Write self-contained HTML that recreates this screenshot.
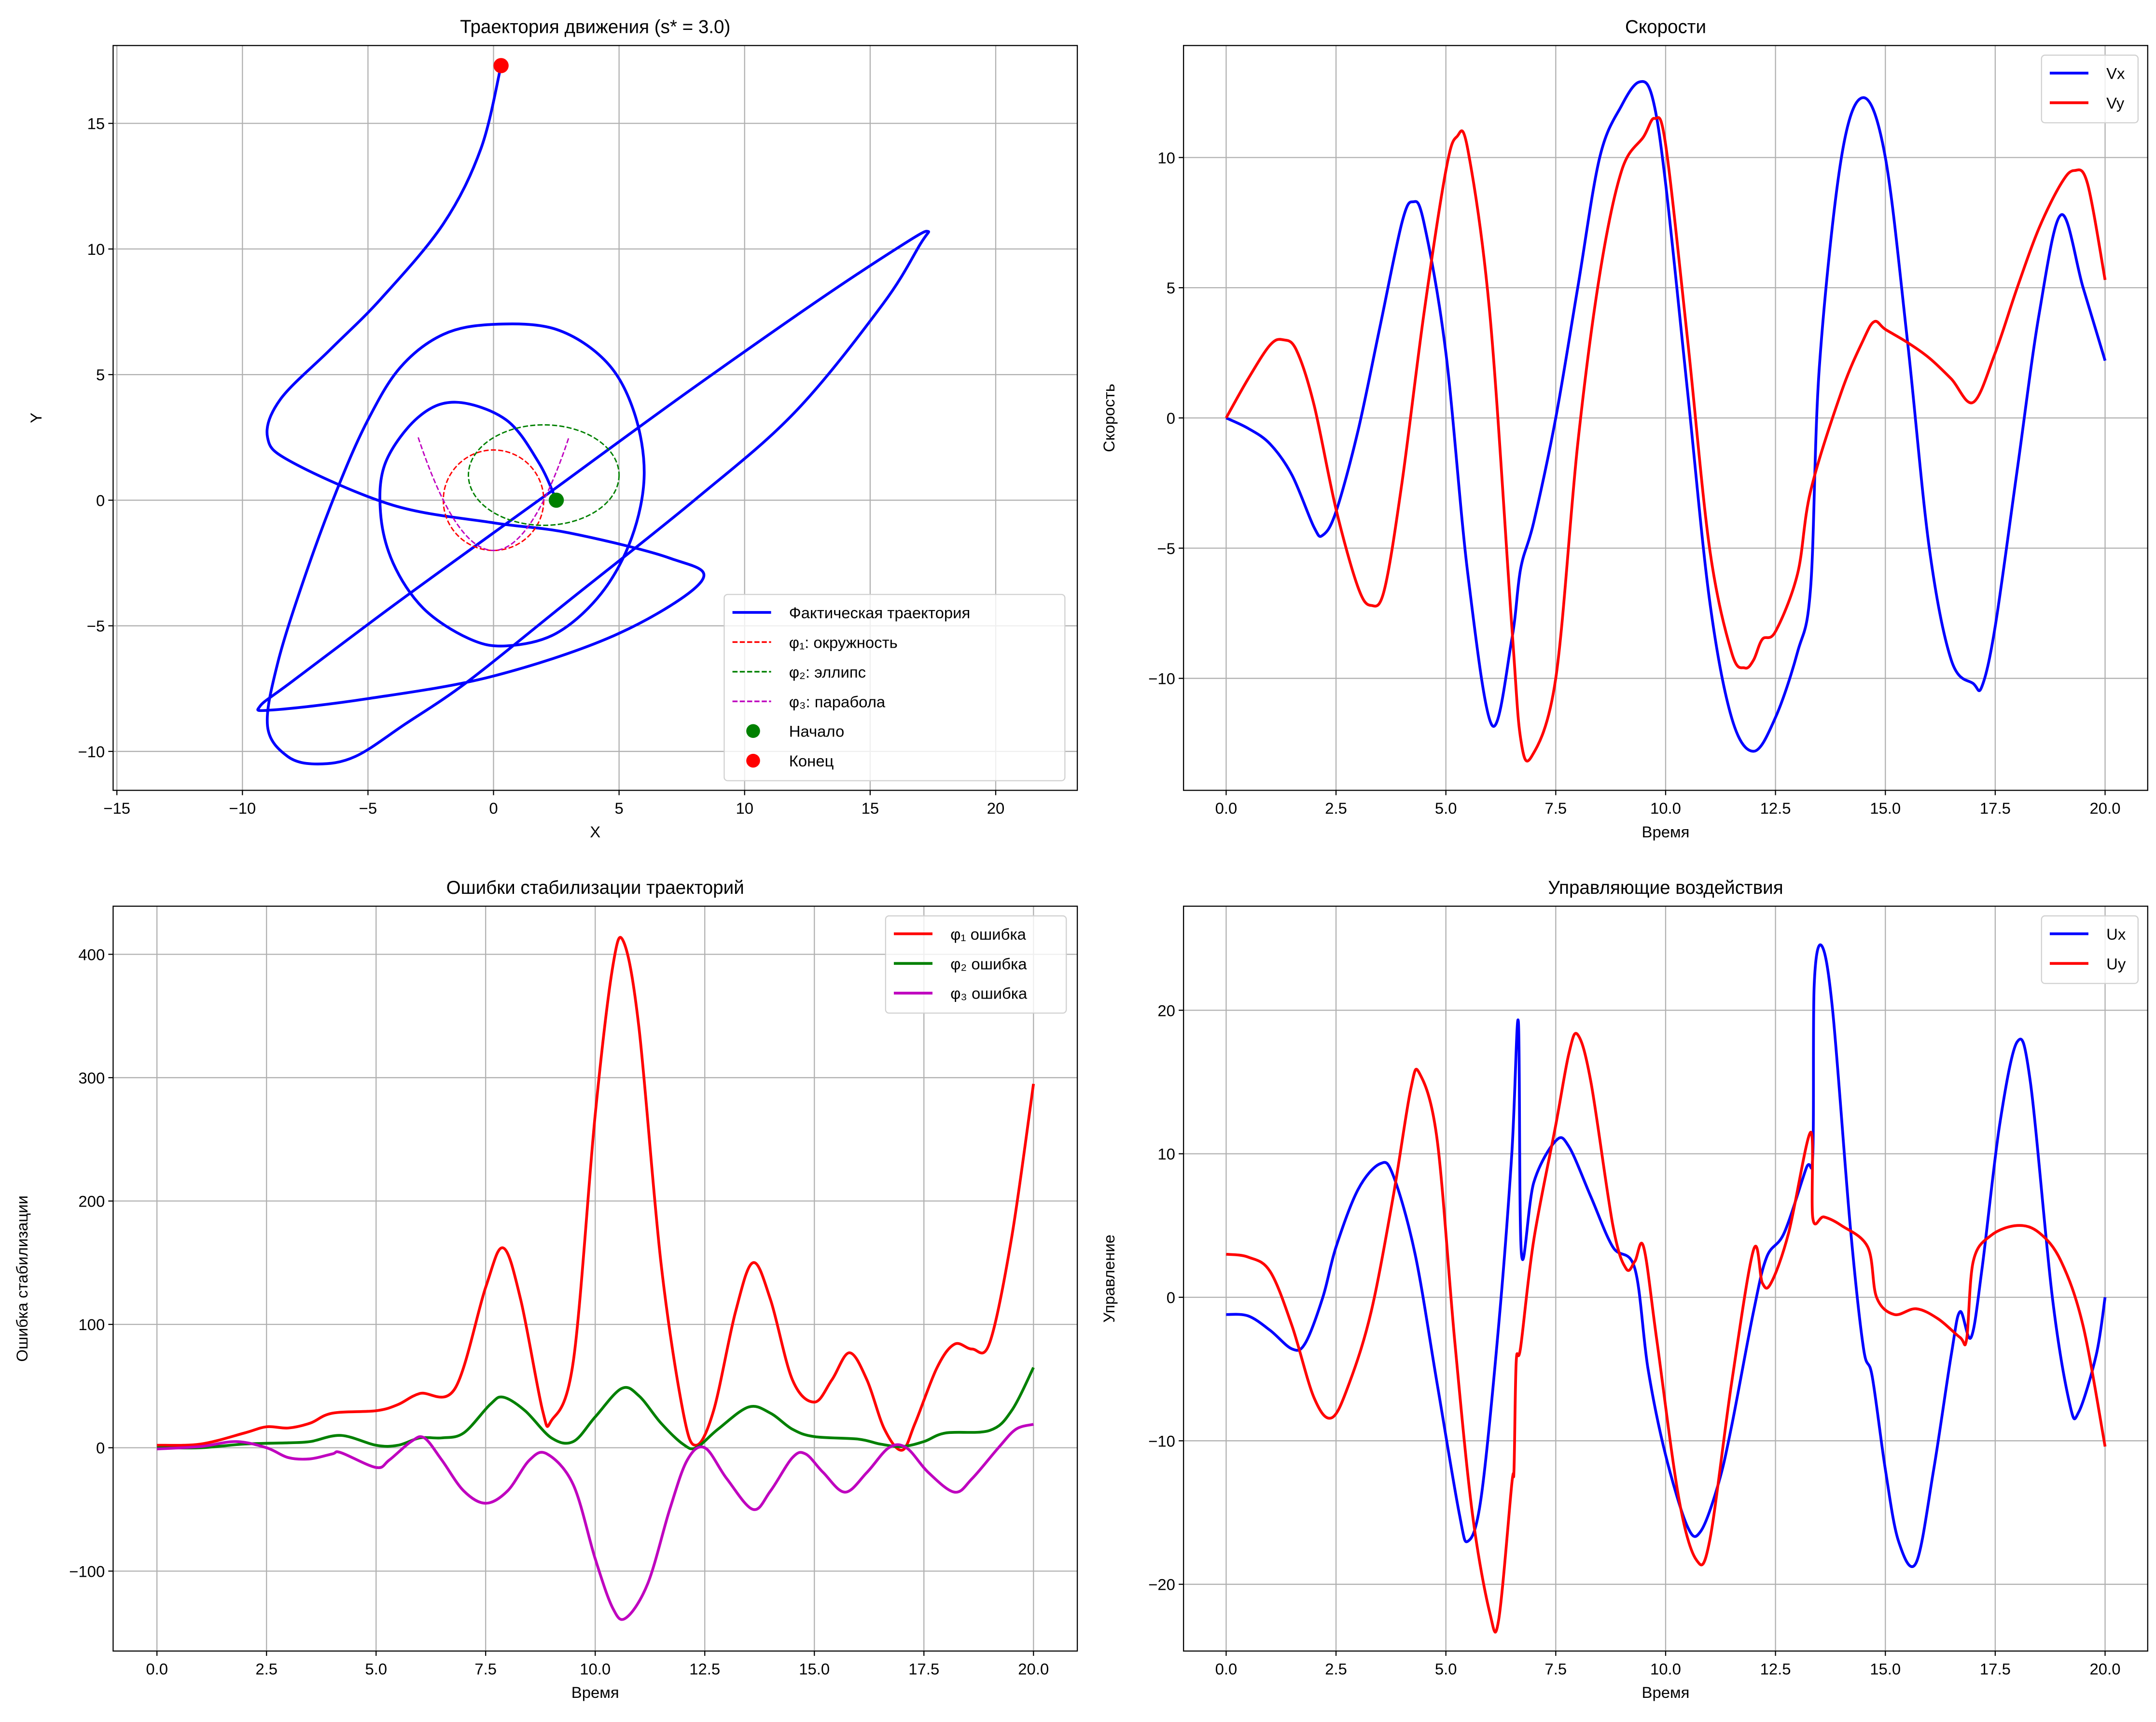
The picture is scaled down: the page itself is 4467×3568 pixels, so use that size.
<!DOCTYPE html>
<html><head><meta charset="utf-8"><style>
html,body{margin:0;padding:0;background:#fff}
svg{display:block}
text{font-family:"Liberation Sans","DejaVu Sans",sans-serif;fill:#000}
</style></head><body>
<svg id="fig" xmlns="http://www.w3.org/2000/svg" width="4467" height="3568" viewBox="0 0 1563 1248.45"></svg>
<script>
// ---- Panel 1 data: trajectory ----
const trajX = [2.5,1.8,0.5,-1.5,-3,-4.3,-4.5,-4,-2.8,-1,0.5,2.5,4.3,5.5,6,5.6,4.5,2.5,0,-2,-3.7,-5,-6.2,-7.5,-8.6,-9,-8.2,-7,-5.5,-3.5,-1,3,8,12,15.5,17,17.3,16.5,13,8,4,2.5,0,-4,-8,-9.3,-8.8,-5,0,5,8.3,7,3,0,-4,-8,-9,-8.5,-6.5,-4.5,-2,-0.5,0.3];
const trajY = [0,1.5,3.2,3.9,3.3,1.5,-0.5,-2.5,-4.3,-5.5,-5.8,-5.3,-3.7,-1.5,1,3.5,5.5,6.8,7,6.6,5.3,3.2,0.5,-3,-6.5,-9,-10.2,-10.5,-10.2,-8.9,-7.2,-4,0,3.5,7.8,10.2,10.7,10.3,8,4.5,1.6,0.5,-1.3,-4.2,-7.2,-8.2,-8.35,-7.9,-7,-5.3,-3.2,-2.3,-1.3,-0.9,-0.2,1.5,2.5,4,6,8,11,14,17.3];
const startPt = [2.5, 0];
const endPt = [0.3, 17.3];
const circleR = 2;
const ellipseC = [2, 1], ellipseAB = [3, 2];
const parabolaA = 0.5, parabolaB = -2, parabolaRange = [-3, 3];
// ---- Panel 2 data: velocities ----
const vxT = [0,0.5,1,1.5,2,2.2,2.5,3,3.5,4,4.25,4.5,5,5.5,6.05,6.5,6.7,7,7.5,8,8.5,9,9.4,9.7,10,10.5,11,11.5,12,12.5,13,13.3,13.5,14,14.5,15,15.5,16,16.5,17,17.2,17.5,18,18.5,19,19.5,20];
const vxV = [0,-0.4,-1.0,-2.2,-4.2,-4.5,-3.6,-0.5,3.5,7.5,8.3,7.5,2.5,-6,-11.8,-8.5,-5.8,-4,0,5,10,12,12.9,12.3,9,1,-7,-11.5,-12.8,-11.5,-9,-6.5,2,10,12.3,10,3,-5,-9.3,-10.2,-10.3,-8,-2,4,7.8,5,2.2];
const vyT = [0,0.5,1,1.3,1.6,2,2.5,3,3.3,3.6,4,4.5,5,5.25,5.5,6,6.5,6.7,6.95,7.5,8,8.5,9,9.5,9.75,10,10.5,11,11.5,11.8,12,12.2,12.5,13,13.3,14,14.5,14.75,15,15.5,16,16.5,17,17.5,18,18.5,19,19.3,19.6,20];
const vyV = [0,1.5,2.8,3.0,2.6,0.5,-3.5,-6.5,-7.2,-6.6,-2.5,4,9.5,10.8,10.3,4,-8,-12.3,-13,-10,-1,5.5,9.5,10.8,11.5,10.5,3,-5,-9,-9.6,-9.3,-8.5,-8.2,-6,-2.8,1,3,3.7,3.4,2.9,2.3,1.5,0.6,2.5,5,7.3,9,9.5,9,5.3];
// ---- Panel 3 data: errors ----
const e1T = [0,1,2,2.5,3,3.5,4,5,5.5,6,6.8,7.5,7.9,8.3,8.8,9,9.5,10,10.4,10.65,11,11.5,12,12.3,12.7,13.2,13.6,14,14.5,15,15.4,15.8,16.2,16.6,17,17.3,17.8,18.2,18.6,19,19.5,20];
const e1V = [2,3,12,17,16,20,28,30,35,44,48,130,162,120,30,22,70,270,390,410,340,150,30,2,30,110,150,120,55,37,55,77,55,15,-2,20,65,84,80,85,170,295];
const e2T = [0,1,2,3,3.5,4.2,5,5.5,6,6.5,7,7.6,7.9,8.4,9,9.5,10,10.6,11,11.5,12,12.3,12.8,13.5,14,14.5,15,16,16.5,17,17.5,18,19,19.5,20];
const e2V = [0,0,3,4,5,10,2,2,8,8,12,35,41,30,8,5,25,48,42,20,3,0,15,33,28,15,9,7,3,1,5,12,14,30,65];
const e3T = [0,1,1.8,2.5,3,3.5,4,4.2,5,5.3,5.8,6.1,6.5,7,7.5,8,8.5,8.9,9.5,10,10.4,10.7,11.2,11.7,12.1,12.5,13,13.6,14,14.5,14.8,15.2,15.7,16.2,16.7,17.1,17.6,18.2,18.6,19.2,19.6,20];
const e3V = [-1,1,5,0,-8,-9,-5,-4,-16,-10,5,8,-10,-35,-45,-35,-10,-5,-30,-90,-130,-138,-110,-50,-10,0,-25,-50,-35,-8,-5,-20,-36,-20,0,0,-20,-36,-25,0,15,19];
// ---- Panel 4 data: controls ----
const uxT = [0,0.5,1,1.5,1.8,2.2,2.5,3,3.5,3.8,4.3,4.8,5.3,5.5,5.8,6.2,6.5,6.65,6.72,7,7.5,7.8,8.3,8.8,9.3,9.6,10,10.5,10.8,11.2,11.5,12,12.3,12.7,13.2,13.35,13.38,13.55,13.8,14.2,14.5,14.7,15,15.3,15.7,16.1,16.5,16.7,16.95,17.2,17.6,18,18.3,18.8,19.2,19.4,19.8,20];
const uxV = [-1.2,-1.3,-2.3,-3.6,-3.2,0,3.5,7.5,9.3,8.5,3,-6,-15,-17,-14,-2,10,19.2,3,8,10.9,10.5,7,3.5,2,-5,-11,-16,-16.3,-13,-9,-1,2.8,4.5,9,10,21.7,24.5,20,5,-3.5,-5.5,-12,-17,-18.5,-12,-4,-1,-2.8,2,12,17.8,15,0,-7.5,-8,-4,0];
const uyT = [0,0.5,1,1.5,2,2.4,2.8,3.3,3.8,4.2,4.4,4.8,5.2,5.6,6,6.2,6.5,6.55,6.6,6.7,7,7.5,7.8,8,8.3,8.8,9.1,9.3,9.5,9.8,10.3,10.7,11,11.5,12,12.2,12.4,12.8,13.3,13.35,13.6,14,14.6,14.8,15.2,15.7,16.2,16.7,16.85,17,17.4,18,18.5,19,19.5,20];
const uyV = [3,2.8,1.8,-2,-7,-8.4,-6,-1,7,14.5,15.6,11,-3,-15,-22,-22.5,-13,-12,-4.5,-3.5,4,12,17,18.3,15,5,2,2.5,3.5,-3,-14,-18.3,-17,-6,3.3,1,1,4.5,11.5,5.5,5.6,5,3.5,0,-1.2,-0.8,-1.5,-2.8,-2.9,2.5,4.3,5,4.5,2.5,-2,-10.4];
// ---- tick labels ----
const p1XTicks = [-15,-10,-5,0,5,10,15,20];
const p1YTicks = [-10,-5,0,5,10,15];
const timeTicks = [0,2.5,5,7.5,10,12.5,15,17.5,20];
const p2YTicks = [-10,-5,0,5,10];
const p3YTicks = [-100,0,100,200,300,400];
const p4YTicks = [-20,-10,0,10,20];

const NS = "http://www.w3.org/2000/svg";
const fig = document.getElementById('fig');
const FT = 11.5, FTITLE = 13.5, FLAB = 11.5;
function mk(tag, attrs, parent){
  const e = document.createElementNS(NS, tag);
  for (const k in attrs) e.setAttribute(k, attrs[k]);
  (parent||fig).appendChild(e);
  return e;
}
function fmt(v){ return (v<0?'\u2212':'') + Math.abs(v).toString(); }
function fmtT(v){ return v.toFixed(1); }

function makeAxes(name, box, xd, yd){
  const g = mk('g', {});
  
  
  const sx = v => box.x0 + (v - xd[0])/(xd[1]-xd[0])*(box.x1-box.x0);
  const sy = v => box.y1 - (v - yd[0])/(yd[1]-yd[0])*(box.y1-box.y0);
  return {g, sx, sy, box};
}
function drawGridTicks(ax, xt, yt, xf, yf){
  const {g, sx, sy, box} = ax;
  const gg = mk('g', {}, g);
  
  
  xt.forEach(v => {
    const x = sx(v);
    mk('line', {x1:x, x2:x, y1:box.y0, y2:box.y1, stroke:'#b0b0b0', 'stroke-width':0.8}, gg);
    mk('line', {x1:x, x2:x, y1:box.y1, y2:box.y1+3.5, stroke:'#000', 'stroke-width':0.8}, g);
    const t = mk('text', {x:x, y:box.y1+17, 'text-anchor':'middle', 'font-size':FT}, g);
    t.textContent = xf(v);
    
    
  });
  yt.forEach(v => {
    const y = sy(v);
    mk('line', {x1:box.x0, x2:box.x1, y1:y, y2:y, stroke:'#b0b0b0', 'stroke-width':0.8}, gg);
    mk('line', {x1:box.x0-3.5, x2:box.x0, y1:y, y2:y, stroke:'#000', 'stroke-width':0.8}, g);
    const t = mk('text', {x:box.x0-6, y:y+4.2, 'text-anchor':'end', 'font-size':FT}, g);
    t.textContent = yf(v);
    
    
  });
}
function frame(ax){
  const b = ax.box;
  const r = mk('rect', {x:b.x0, y:b.y0, width:b.x1-b.x0, height:b.y1-b.y0, fill:'none', stroke:'#000', 'stroke-width':0.8}, ax.g);
  
  
}
function labels(ax, title, xl, yl){
  const b = ax.box, cx = (b.x0+b.x1)/2;
  const t = mk('text', {x:cx, y:b.y0-9, 'text-anchor':'middle', 'font-size':FTITLE}, ax.g);
  t.textContent = title;
  
  
  if (xl){
    const x = mk('text', {x:cx, y:b.y1+34, 'text-anchor':'middle', 'font-size':FLAB}, ax.g);
    x.textContent = xl;
    
    
  }
  if (yl){
    const yy = (b.y0+b.y1)/2, xx = yl.x;
    const y = mk('text', {x:xx, y:yy, 'text-anchor':'middle', 'font-size':FLAB, transform:`rotate(-90 ${xx} ${yy})`}, ax.g);
    y.textContent = yl.t;
    
    
  }
}
function smoothPath(pts){
  let d = `M${pts[0][0].toFixed(2)},${pts[0][1].toFixed(2)}`;
  for (let i=0;i<pts.length-1;i++){
    const p0 = pts[Math.max(0,i-1)], p1 = pts[i], p2 = pts[i+1], p3 = pts[Math.min(pts.length-1,i+2)];
    const c1 = [p1[0]+(p2[0]-p0[0])/6, p1[1]+(p2[1]-p0[1])/6];
    const c2 = [p2[0]-(p3[0]-p1[0])/6, p2[1]-(p3[1]-p1[1])/6];
    d += ` C${c1[0].toFixed(2)},${c1[1].toFixed(2)} ${c2[0].toFixed(2)},${c2[1].toFixed(2)} ${p2[0].toFixed(2)},${p2[1].toFixed(2)}`;
  }
  return d;
}
function series(g, ax, xs, ys, color, name){
  const pts = xs.map((v,i)=>[ax.sx(v), ax.sy(ys[i])]);
  const p = mk('path', {d:smoothPath(pts), fill:'none', stroke:color, 'stroke-width':2, 'stroke-linejoin':'round'}, g);
  
  
  return p;
}
function clip(ax, id){
  const b = ax.box;
  const cp = mk('clipPath', {id:id}, ax.g);
  mk('rect', {x:b.x0, y:b.y0, width:b.x1-b.x0, height:b.y1-b.y0}, cp);
  return mk('g', {'clip-path':`url(#${id})`}, ax.g);
}
function legend(ax, x, y, w, entries){
  const lg = mk('g', {}, ax.g);
  
  
  const rowH = 21.5;
  mk('rect', {x:x, y:y, width:w, height:entries.length*rowH+6, rx:2.5, fill:'#fff', 'fill-opacity':0.8, stroke:'#d0d0d0', 'stroke-width':0.8}, lg);
  entries.forEach((e,i)=>{
    const cy = y + 13 + i*rowH;
    const eg = mk('g', {}, lg);
    
    
    if (e.type==='dot') mk('circle', {cx:x+21, cy:cy, r:5, fill:e.c}, eg);
    else mk('line', {x1:x+6, x2:x+34, y1:cy, y2:cy, stroke:e.c, 'stroke-width':e.dash?1.2:2, 'stroke-dasharray':e.dash||'none'}, eg);
    const t = mk('text', {x:x+47, y:cy+4.2, 'font-size':FT}, eg);
    t.textContent = e.t;
  });
}

// ===== Panel 1 =====
const a1 = makeAxes('trajectory-panel', {x0:82,x1:781,y0:33,y1:573}, [-15.15,23.25], [-11.55,18.1]);
drawGridTicks(a1, p1XTicks, p1YTicks, fmt, fmt);
{
  const g = clip(a1, 'c1');
  const pts = trajX.map((v,i)=>[a1.sx(v), a1.sy(trajY[i])]);
  const p = mk('path', {d:smoothPath(pts), fill:'none', stroke:'#0000ff', 'stroke-width':2}, g);
  
  
  const cx = a1.sx(0), cy = a1.sy(0);
  const c = mk('ellipse', {cx:cx, cy:cy, rx:a1.sx(circleR)-cx, ry:cy-a1.sy(circleR), fill:'none', stroke:'#ff0000', 'stroke-width':1, 'stroke-dasharray':'3.7,1.6'}, g);
  
  
  const ex = a1.sx(ellipseC[0]), ey = a1.sy(ellipseC[1]);
  const el = mk('ellipse', {cx:ex, cy:ey, rx:a1.sx(ellipseC[0]+ellipseAB[0])-ex, ry:ey-a1.sy(ellipseC[1]+ellipseAB[1]), fill:'none', stroke:'#008000', 'stroke-width':1, 'stroke-dasharray':'3.7,1.6'}, g);
  
  
  let d = '';
  for (let i=0;i<=60;i++){
    const x = parabolaRange[0] + (parabolaRange[1]-parabolaRange[0])*i/60;
    d += (i?'L':'M') + a1.sx(x).toFixed(2) + ',' + a1.sy(parabolaA*x*x+parabolaB).toFixed(2);
  }
  const pb = mk('path', {d:d, fill:'none', stroke:'#bf00bf', 'stroke-width':1, 'stroke-dasharray':'3.7,1.6'}, g);
  
  
  const s = mk('circle', {cx:a1.sx(startPt[0]), cy:a1.sy(startPt[1]), r:5.5, fill:'#008000'}, g);
  
  
  const en = mk('circle', {cx:a1.sx(endPt[0]), cy:a1.sy(endPt[1]), r:5.5, fill:'#ff0000'}, g);
  
  
}
frame(a1);
labels(a1, 'Траектория движения (s* = 3.0)', 'X', {t:'Y', x:30});
legend(a1, 525, 431, 247, [
  {c:'#0000ff', t:'Фактическая траектория'},
  {c:'#ff0000', t:'φ₁: окружность', dash:'3.7,1.6'},
  {c:'#008000', t:'φ₂: эллипс', dash:'3.7,1.6'},
  {c:'#bf00bf', t:'φ₃: парабола', dash:'3.7,1.6'},
  {c:'#008000', t:'Начало', type:'dot'},
  {c:'#ff0000', t:'Конец', type:'dot'}
]);

// ===== Panel 2 =====
const a2 = makeAxes('velocity-panel', {x0:858,x1:1557,y0:33,y1:573}, [-0.97,20.97], [-14.3,14.3]);
drawGridTicks(a2, timeTicks, p2YTicks, fmtT, fmt);
{
  const g = clip(a2, 'c2');
  series(g, a2, vxT, vxV, '#0000ff', 'vx-line');
  series(g, a2, vyT, vyV, '#ff0000', 'vy-line');
}
frame(a2);
labels(a2, 'Скорости', 'Время', {t:'Скорость', x:808});
legend(a2, 1480, 40, 70, [{c:'#0000ff', t:'Vx'}, {c:'#ff0000', t:'Vy'}]);

// ===== Panel 3 =====
const a3 = makeAxes('error-panel', {x0:82,x1:781,y0:657,y1:1197}, [-1.0,21.0], [-164.8,439]);
drawGridTicks(a3, timeTicks, p3YTicks, fmtT, fmt);
{
  const g = clip(a3, 'c3');
  series(g, a3, e1T, e1V, '#ff0000', 'phi1-error-line');
  series(g, a3, e2T, e2V, '#008000', 'phi2-error-line');
  series(g, a3, e3T, e3V, '#bf00bf', 'phi3-error-line');
}
frame(a3);
labels(a3, 'Ошибки стабилизации траекторий', 'Время', {t:'Ошибка стабилизации', x:20});
legend(a3, 642, 664, 131, [{c:'#ff0000', t:'φ₁ ошибка'}, {c:'#008000', t:'φ₂ ошибка'}, {c:'#bf00bf', t:'φ₃ ошибка'}]);

// ===== Panel 4 =====
const a4 = makeAxes('control-panel', {x0:858,x1:1557,y0:657,y1:1197}, [-0.97,20.97], [-24.65,27.25]);
drawGridTicks(a4, timeTicks, p4YTicks, fmtT, fmt);
{
  const g = clip(a4, 'c4');
  series(g, a4, uxT, uxV, '#0000ff', 'ux-line');
  series(g, a4, uyT, uyV, '#ff0000', 'uy-line');
}
frame(a4);
labels(a4, 'Управляющие воздействия', 'Время', {t:'Управление', x:808});
legend(a4, 1480, 664, 70, [{c:'#0000ff', t:'Ux'}, {c:'#ff0000', t:'Uy'}]);
</script>
</body></html>
